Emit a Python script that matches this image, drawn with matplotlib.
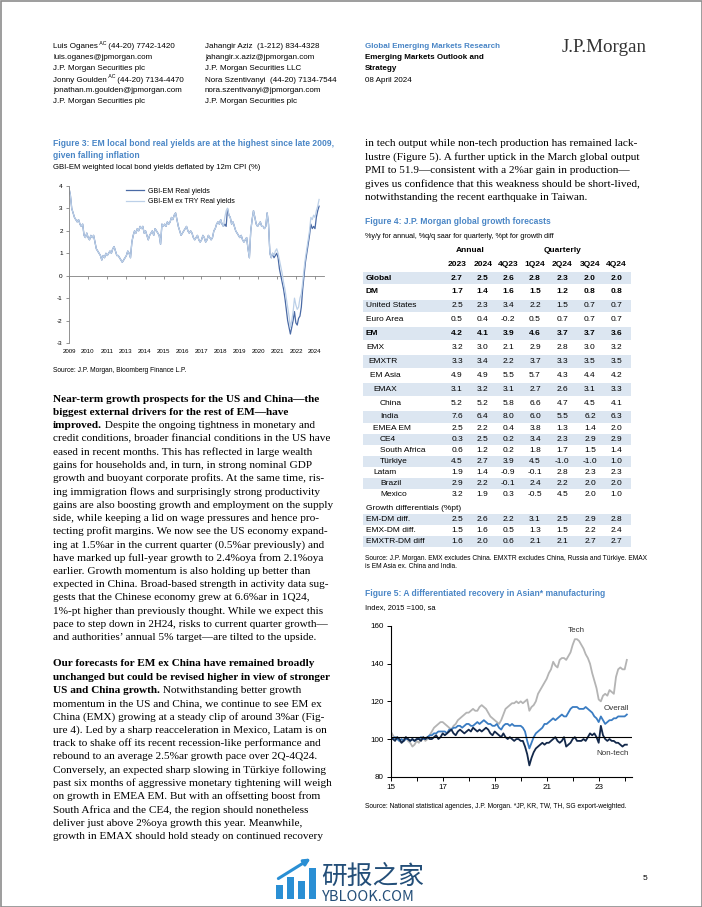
import numpy as np
import matplotlib
matplotlib.use('Agg')
import matplotlib.pyplot as plt
from matplotlib import font_manager
from matplotlib.patches import Rectangle

## Fonts
names = {f.name for f in font_manager.fontManager.ttflist}
SANS = 'Liberation Sans Narrow' if 'Liberation Sans Narrow' in names else 'Liberation Sans'
SERIF = 'Liberation Serif'
plt.rcParams['font.family'] = [SANS, 'DejaVu Sans']
plt.rcParams['axes.unicode_minus'] = False

BLUE = '#4a86c6'
W, H = 702, 907

## Figure 3 data: GBI-EM real yields, monthly Jan-2009 .. Apr-2024
fig3_start = 2009
gbi_em_real = [
    3.9, 3.6, 3.0, 2.8, 2.6, 2.5, 2.4, 2.5, 2.3, 2.2, 2.3, 1.8,   # 2009
    1.7, 1.9, 1.7, 1.6, 1.8, 1.7, 1.8, 1.5, 1.2, 1.1, 1.0, 0.9,   # 2010
    0.7, 0.9, 0.8, 1.0, 0.9, 1.0, 1.1, 1.0, 1.2, 1.3, 1.1, 0.9,   # 2011
    0.9, 0.8, 0.7, 0.6, 0.7, 0.8, 0.9, 1.1, 1.0, 0.8, 1.5, 1.8,   # 2012
    2.0, 1.9, 2.1, 2.0, 2.2, 2.1, 2.2, 1.9, 2.0, 1.8, 1.6, 1.8,   # 2013
    1.9, 2.0, 1.8, 2.1, 2.0, 1.9, 1.8, 1.4, 2.3, 2.2, 2.3, 2.2,   # 2014
    2.4, 2.3, 2.4, 2.6, 2.5, 2.7, 2.8, 2.5, 2.2, 2.0, 1.8, 1.9,   # 2015
    2.0, 2.1, 2.2, 2.0, 1.9, 2.0, 1.9, 1.7, 1.6, 1.7, 1.8, 1.6,   # 2016
    1.5, 1.6, 1.8, 1.7, 1.5, 1.6, 1.8, 1.7, 1.6, 1.7, 2.0, 2.1,   # 2017
    2.3, 2.4, 2.3, 2.5, 2.3, 2.2, 2.3, 2.2, 3.0, 2.7, 2.6, 2.3,   # 2018
    2.4, 2.2, 2.0, 1.9, 1.8, 1.7, 1.8, 1.6, 1.5, 1.6, 1.7, 1.2,   # 2019
    0.8, 2.0, 2.5, 2.9, 2.6, 2.3, 2.2, 2.3, 2.4, 2.2, 2.2, 2.1,   # 2020
    2.2, 2.8, 2.3, 1.0, 0.8, 1.0, 0.8, 0.9, 1.0, 0.8, 0.3, 0.0,   # 2021
    -0.3, -0.6, -1.0, -1.5, -2.0, -2.3, -2.6, -2.3, -2.0, -1.6, -2.1, -2.2,  # 2022
    -1.9, -1.8, -1.4, -0.6, 0.0, 0.6, 1.0, 1.4, 1.8, 2.3, 2.1, 2.2,  # 2023
    2.1, 2.6, 2.9, 3.1,                                             # 2024
]
gbi_em_ex_try = [
    3.9, 3.6, 3.0, 2.8, 2.6, 2.5, 2.4, 2.5, 2.3, 2.2, 2.3, 1.8,
    1.7, 1.9, 1.7, 1.6, 1.8, 1.7, 1.8, 1.5, 1.2, 1.1, 1.0, 0.9,
    0.7, 0.9, 0.8, 1.0, 0.9, 1.0, 1.1, 1.0, 1.2, 1.3, 1.1, 0.9,
    0.9, 0.8, 0.7, 0.6, 0.7, 0.8, 0.9, 1.1, 1.0, 0.8, 1.5, 1.8,
    2.0, 1.9, 2.1, 2.0, 2.2, 2.1, 2.2, 1.9, 2.0, 1.8, 1.6, 1.8,
    1.9, 2.0, 1.8, 2.1, 2.0, 1.9, 1.8, 1.4, 2.3, 2.2, 2.3, 2.2,
    2.4, 2.3, 2.4, 2.6, 2.5, 2.7, 2.8, 2.5, 2.2, 2.0, 1.8, 1.9,
    2.0, 2.1, 2.2, 2.0, 1.9, 2.0, 1.9, 1.7, 1.6, 1.7, 1.8, 1.6,
    1.5, 1.6, 1.8, 1.7, 1.5, 1.6, 1.8, 1.7, 1.6, 1.7, 2.0, 2.1,
    2.3, 2.4, 2.3, 2.5, 2.3, 2.2, 2.6, 2.9, 3.0, 2.7, 2.6, 2.3,
    2.4, 2.2, 2.0, 1.9, 1.8, 1.7, 1.8, 1.6, 1.5, 1.6, 1.7, 1.2,
    0.8, 2.0, 2.5, 2.9, 2.6, 2.3, 2.2, 2.3, 2.4, 2.2, 2.2, 2.1,
    2.2, 2.8, 2.3, 1.0, 0.8, 1.0, 0.9, 1.1, 1.2, 1.0, 0.7, 0.4,
    0.1, -0.3, -0.6, -1.0, -1.4, -1.8, -2.3, -2.0, -1.6, -1.0, -1.3, -1.5,
    -1.4, -1.0, -0.8, -0.3, 0.3, 0.8, 1.2, 1.6, 2.0, 2.6, 2.5, 2.7,
    2.6, 2.9, 3.1, 3.4,
]
fig3_xlabels = ['2009', '2010', '2011', '2013', '2014', '2015', '2016',
                '2017', '2018', '2019', '2020', '2021', '2022', '2024']

## Figure 4 data: growth forecasts
tbl_cols = ['2023', '2024', '4Q23', '1Q24', '2Q24', '3Q24', '4Q24']
tbl_rows = ['Global', 'DM', 'United States', 'Euro Area', 'EM', 'EMX', 'EMXTR',
            'EM Asia', 'EMAX', 'China', 'India', 'EMEA EM', 'CE4',
            'South Africa', 'Türkiye', 'Latam', 'Brazil', 'Mexico']
tbl_vals = [
    [2.7, 2.5, 2.6, 2.8, 2.3, 2.0, 2.0],
    [1.7, 1.4, 1.6, 1.5, 1.2, 0.8, 0.8],
    [2.5, 2.3, 3.4, 2.2, 1.5, 0.7, 0.7],
    [0.5, 0.4, -0.2, 0.5, 0.7, 0.7, 0.7],
    [4.2, 4.1, 3.9, 4.6, 3.7, 3.7, 3.6],
    [3.2, 3.0, 2.1, 2.9, 2.8, 3.0, 3.2],
    [3.3, 3.4, 2.2, 3.7, 3.3, 3.5, 3.5],
    [4.9, 4.9, 5.5, 5.7, 4.3, 4.4, 4.2],
    [3.1, 3.2, 3.1, 2.7, 2.6, 3.1, 3.3],
    [5.2, 5.2, 5.8, 6.6, 4.7, 4.5, 4.1],
    [7.6, 6.4, 8.0, 6.0, 5.5, 6.2, 6.3],
    [2.5, 2.2, 0.4, 3.8, 1.3, 1.4, 2.0],
    [0.3, 2.5, 0.2, 3.4, 2.3, 2.9, 2.9],
    [0.6, 1.2, 0.2, 1.8, 1.7, 1.5, 1.4],
    [4.5, 2.7, 3.9, 4.5, -1.0, -1.0, 1.0],
    [1.9, 1.4, -0.9, -0.1, 2.8, 2.3, 2.3],
    [2.9, 2.2, -0.1, 2.4, 2.2, 2.0, 2.0],
    [3.2, 1.9, 0.3, -0.5, 4.5, 2.0, 1.0],
]
tbl_bold = ['Global', 'DM', 'EM']
tbl_indent = [0, 0, 0, 0, 0, 0, 1, 2, 3, 4, 4, 3, 4, 4, 4, 3, 4, 4]
diff_rows = ['EM-DM diff.', 'EMX-DM diff.', 'EMXTR-DM diff']
diff_vals = [
    [2.5, 2.6, 2.2, 3.1, 2.5, 2.9, 2.8],
    [1.5, 1.6, 0.5, 1.3, 1.5, 2.2, 2.4],
    [1.6, 2.0, 0.6, 2.1, 2.1, 2.7, 2.7],
]

## Figure 5 data: Asian manufacturing, monthly Jan-2015 .. Feb-2024
fig5_start = 2015
tech = [
    104, 102, 100, 101, 99, 98, 100, 101, 99, 98, 96, 97,
    99, 98, 100, 101, 99, 100, 102, 104, 106, 107, 108, 109,
    109, 108, 107, 106, 105, 107, 108, 110, 111, 112, 113, 114,
    114, 115, 116, 115, 115, 117, 118, 117, 116, 114, 112, 111,
    110, 109, 108, 110, 113, 116, 117, 118, 119, 119, 120, 119,
    120, 119, 120, 121, 115, 117, 118, 120, 124, 126, 128, 130,
    132, 135, 137, 141, 139, 138, 142, 143, 143, 142, 144, 146,
    150, 153, 153, 152, 150, 148, 145, 143, 140, 135, 131, 127,
    121, 120, 123, 124, 123, 126, 125, 124, 133, 137, 138, 137,
    137, 142,
]
overall = [
    101, 100, 101, 100, 99, 100, 99, 100, 100, 99, 100, 99,
    100, 100, 101, 100, 100, 101, 102, 102, 103, 103, 104, 104,
    104, 104, 103, 105, 105, 106, 106, 107, 107, 106, 107, 108,
    108, 107, 107, 108, 109, 108, 109, 110, 109, 108, 108, 107,
    107, 108, 106, 105, 107, 108, 108, 107, 108, 107, 107, 107,
    107, 106, 104, 99, 95, 98, 101, 103, 104, 105, 106, 108,
    108, 109, 110, 111, 110, 111, 112, 113, 112, 112, 114, 116,
    117, 117, 117, 116, 116, 116, 117, 116, 115, 114, 112, 111,
    109, 112, 110, 108, 109, 110, 110, 111, 111, 112, 112, 112,
    112, 113,
]
non_tech = [
    101, 100, 99, 101, 100, 98, 99, 101, 100, 99, 100, 99,
    100, 100, 99, 101, 100, 101, 100, 100, 101, 102, 100, 101,
    103, 102, 103, 104, 105, 103, 102, 104, 105, 104, 103, 104,
    105, 104, 106, 105, 104, 105, 104, 105, 106, 105, 103, 102,
    104, 103, 102, 101, 103, 101, 100, 101, 100, 99, 100, 100,
    99, 99, 96, 92, 86, 90, 93, 95, 96, 97, 98, 97,
    98, 98, 99, 100, 101, 99, 98, 99, 101, 96, 97, 98,
    100, 101, 99, 99, 99, 100, 99, 101, 103, 102, 103, 101,
    98, 107, 102, 100, 99, 100, 99, 99, 98, 98, 97, 96,
    97, 97,
]
fig5_ticks = [2015, 2017, 2019, 2021, 2023]
fig5_ticklabels = ['15', '17', '19', '21', '23']

## Text
header_left = [['Luis Oganes', ' (44-20) 7742-1420'], 'luis.oganes@jpmorgan.com',
               'J.P. Morgan Securities plc', ['Jonny Goulden', ' (44-20) 7134-4470'],
               'jonathan.m.goulden@jpmorgan.com', 'J.P. Morgan Securities plc']
header_mid = ['Jahangir Aziz  (1-212) 834-4328', 'jahangir.x.aziz@jpmorgan.com',
              'J.P. Morgan Securities LLC', 'Nora Szentivanyi  (44-20) 7134-7544',
              'nora.szentivanyi@jpmorgan.com', 'J.P. Morgan Securities plc']

para1 = [
    ('Near-term growth prospects for the US and China—the', ''),
    ('biggest external drivers for the rest of EM—have', ''),
    ('improved.', ' Despite the ongoing tightness in monetary and'),
    ('', 'credit conditions, broader financial conditions in the US have'),
    ('', 'eased in recent months. This has reflected in large wealth'),
    ('', 'gains for households and, in turn, in strong nominal GDP'),
    ('', 'growth and buoyant corporate profits. At the same time, ris-'),
    ('', 'ing immigration flows and surprisingly strong productivity'),
    ('', 'gains are also boosting growth and employment on the supply'),
    ('', 'side, while keeping a lid on wage pressures and hence pro-'),
    ('', 'tecting profit margins. We now see the US economy expand-'),
    ('', 'ing at 1.5%ar in the current quarter (0.5%ar previously) and'),
    ('', 'have marked up full-year growth to 2.4%oya from 2.1%oya'),
    ('', 'earlier. Growth momentum is also holding up better than'),
    ('', 'expected in China. Broad-based strength in activity data sug-'),
    ('', 'gests that the Chinese economy grew at 6.6%ar in 1Q24,'),
    ('', '1%-pt higher than previously thought. While we expect this'),
    ('', 'pace to step down in 2H24, risks to current quarter growth—'),
    ('', 'and authorities’ annual 5% target—are tilted to the upside.'),
]
para2 = [
    ('Our forecasts for EM ex China have remained broadly', ''),
    ('unchanged but could be revised higher in view of stronger', ''),
    ('US and China growth.', ' Notwithstanding better growth'),
    ('', 'momentum in the US and China, we continue to see EM ex'),
    ('', 'China (EMX) growing at a steady clip of around 3%ar (Fig-'),
    ('', 'ure 4). Led by a sharp reacceleration in Mexico, Latam is on'),
    ('', 'track to shake off its recent recession-like performance and'),
    ('', 'rebound to an average 2.5%ar growth pace over 2Q-4Q24.'),
    ('', 'Conversely, an expected sharp slowing in Türkiye following'),
    ('', 'past six months of aggressive monetary tightening will weigh'),
    ('', 'on growth in EMEA EM. But with an offsetting boost from'),
    ('', 'South Africa and the CE4, the region should nonetheless'),
    ('', 'deliver just above 2%oya growth this year. Meanwhile,'),
    ('', 'growth in EMAX should hold steady on continued recovery'),
]
para_right = [
    'in tech output while non-tech production has remained lack-',
    'lustre (Figure 5). A further uptick in the March global output',
    'PMI to 51.9—consistent with a 2%ar gain in production—',
    'gives us confidence that this weakness should be short-lived,',
    'notwithstanding the recent earthquake in Taiwan.',
]

## Page
fig = plt.figure(figsize=(W / 100, H / 100), dpi=100)
bg = fig.add_axes([0, 0, 1, 1])
bg.set_xlim(0, W)
bg.set_ylim(H, 0)
bg.axis('off')


def px_axes(l, t, r, b):
    return fig.add_axes([l / W, 1 - b / H, (r - l) / W, (b - t) / H])


def put(x, y, s, size, **kw):
    kw.setdefault('va', 'center')
    return bg.text(x, y, s, fontsize=size, **kw)


def chain(x, y, parts):
    # parts: (text, size, dy, kwargs); each piece follows the previous one
    first = prev = None
    for s, size, dy, kw in parts:
        if first is None:
            first = prev = bg.text(x, y, s, fontsize=size, va='center', **kw)
        else:
            prev = bg.annotate(s, xy=(1, 0), xycoords=(prev, first),
                               xytext=(0, dy), textcoords='offset points',
                               fontsize=size, va='bottom', ha='left', **kw)
    return first


# header
HS = 5.8
hy = [46.5, 57.5, 68.5, 80, 91, 101.5]
for y, item in zip(hy, header_left):
    if isinstance(item, list):
        chain(53, y, [(item[0], HS, 0, {}), (' AC', 3.8, 3, {}), (item[1], HS, 0, {})])
    else:
        put(53, y, item, HS)
for y, item in zip(hy, header_mid):
    put(205, y, item, HS)
put(365, hy[0], 'Global Emerging Markets Research', HS, color=BLUE, weight='bold')
put(365, hy[1], 'Emerging Markets Outlook and', HS, weight='bold')
put(365, hy[2], 'Strategy', HS, weight='bold')
put(365, hy[3], '08 April 2024', HS)
put(562, 48, 'J.P.Morgan', 13.7, family=SERIF, color='#333333')

# body text
BS = 8.15
LS = 13.25
for i, (b, r) in enumerate(para1):
    y = 399 + i * LS
    if b and r:
        chain(53, y, [(b, BS, 0, dict(family=SERIF, weight='bold')), (r, BS, 0, dict(family=SERIF))])
    elif b:
        put(53, y, b, BS, family=SERIF, weight='bold')
    else:
        put(53, y, r, BS, family=SERIF)
for i, (b, r) in enumerate(para2):
    y = 664 + i * LS
    if b and r:
        chain(53, y, [(b, BS, 0, dict(family=SERIF, weight='bold')), (r, BS, 0, dict(family=SERIF))])
    elif b:
        put(53, y, b, BS, family=SERIF, weight='bold')
    else:
        put(53, y, r, BS, family=SERIF)
for i, s in enumerate(para_right):
    put(365, 144 + i * LS, s, BS, family=SERIF)

# ---- Figure 3 ----
TS = 6.15
put(53, 144, 'Figure 3: EM local bond real yields are at the highest since late 2009,', TS, color=BLUE, weight='bold')
put(53, 155.5, 'given falling inflation', TS, color=BLUE, weight='bold')
put(53, 167.5, 'GBI-EM weighted local bond yields deflated by 12m CPI (%)', 5.6)
put(53, 371, 'Source: J.P. Morgan, Bloomberg Finance L.P.', 4.8)

ax3 = px_axes(69, 186, 324, 343)
x3 = fig3_start + np.arange(len(gbi_em_real)) / 12
ax3.plot(x3, gbi_em_real, color='#4a6aa5', lw=0.9, label='GBI-EM Real yields')
ax3.plot(x3, gbi_em_ex_try, color='#bcd0e8', lw=0.9, label='GBI-EM ex TRY Real yields')
tick3 = np.linspace(2009, 2024, len(fig3_xlabels))
ax3.set_xlim(2009, 2024.55)
ax3.set_ylim(-3, 4)
ax3.set_yticks(range(-3, 5))
ax3.set_xticks(tick3)
ax3.set_xticklabels(fig3_xlabels)
ax3.tick_params(axis='x', length=0, labelsize=4.4, pad=4)
ax3.tick_params(axis='y', length=2.5, width=0.6, color='#808080', labelsize=4.6, pad=2)
for s in ['top', 'right', 'bottom']:
    ax3.spines[s].set_visible(False)
ax3.spines['left'].set_color('#808080')
ax3.spines['left'].set_linewidth(0.6)
ax3.patch.set_visible(False)
zero = ax3.secondary_xaxis(3 / 7)
zero.set_xticks(tick3)
zero.set_xticklabels([])
zero.tick_params(length=2.5, width=0.6, color='#808080')
zero.spines['bottom'].set_color('#808080')
zero.spines['bottom'].set_linewidth(0.6)
ax3.legend(loc='upper left', bbox_to_anchor=(0.2, 1.03), frameon=False,
           fontsize=5.0, handlelength=2.6, handletextpad=0.6, labelspacing=0.55)

# ---- Figure 4 table ----
put(365, 222, 'Figure 4: J.P. Morgan global growth forecasts', TS, color=BLUE, weight='bold')
put(365, 236, '%y/y for annual, %q/q saar for quarterly, %pt for growth diff', 5.2)
col_x = [457, 482.7, 508.3, 535, 562.3, 590, 616.7]
indent_x = [366, 368, 370, 373, 380]
row_y = [278 + 13.9 * i for i in range(11)] + [428.6, 439.6, 450.6, 461.4, 472.4, 483.6, 494.6]
row_h = [12.6] * 11 + [11] * 7
FS = 6.0
put(470, 251, 'Annual', FS, weight='bold', ha='center')
put(562.7, 250, 'Quarterly', FS, weight='bold', ha='center')
for cx, c in zip(col_x, tbl_cols):
    put(cx, 264, c, FS, weight='bold', ha='center')
for i, (name, vals) in enumerate(zip(tbl_rows, tbl_vals)):
    y = row_y[i]
    if i % 2 == 0:
        bg.add_patch(Rectangle((363, y - row_h[i] / 2), 268, row_h[i], fc='#dce6f1', ec='none'))
    wt = 'bold' if name in tbl_bold else 'normal'
    put(indent_x[tbl_indent[i]], y, name, FS, weight=wt)
    for cx, v in zip(col_x, vals):
        put(cx, y, f'{v:.1f}', FS, weight=wt, ha='center')
put(366, 508.7, 'Growth differentials (%pt)', FS)
for i, (name, vals) in enumerate(zip(diff_rows, diff_vals)):
    y = 519.7 + 11 * i
    if i % 2 == 0:
        bg.add_patch(Rectangle((363, y - 5.5), 268, 11, fc='#dce6f1', ec='none'))
    put(366, y, name, FS)
    for cx, v in zip(col_x, vals):
        put(cx, y, f'{v:.1f}', FS, ha='center')
put(365, 558, 'Source: J.P. Morgan. EMX excludes China. EMXTR excludes China, Russia and Türkiye. EMAX', 4.8)
put(365, 567, 'is EM Asia ex. China and India.', 4.8)

# ---- Figure 5 ----
put(365, 594, 'Figure 5: A differentiated recovery in Asian* manufacturing', TS, color=BLUE, weight='bold')
put(365, 608, 'Index, 2015 =100, sa', 5.4)
put(365, 806, 'Source: National statistical agencies, J.P. Morgan. *JP, KR, TW, TH, SG export-weighted.', 4.8)

ax5 = px_axes(390.7, 626, 631.7, 776.7)
x5 = fig5_start + np.arange(len(tech)) / 12
ax5.plot(x5, tech, color='#b4b4b4', lw=1.3)
ax5.plot(x5, overall, color='#3a7cc2', lw=1.3)
ax5.plot(x5, non_tech, color='#13284a', lw=1.3)
ax5.axhline(101, color='black', lw=0.8)
ax5.set_xlim(2015, 2024.27)
ax5.set_ylim(80, 160)
ax5.set_yticks([80, 100, 120, 140, 160])
ax5.set_xticks(fig5_ticks)
ax5.set_xticklabels(fig5_ticklabels)
ax5.set_xticks(range(2015, 2025), minor=True)
ax5.tick_params(which='both', length=3, width=0.7, labelsize=5.8, pad=2)
for s in ['top', 'right']:
    ax5.spines[s].set_visible(False)
for s in ['left', 'bottom']:
    ax5.spines[s].set_linewidth(0.8)
ax5.patch.set_visible(False)
ax5.text(2022.15, 157.5, 'Tech', fontsize=5.8, ha='center', va='center', color='#333333')
ax5.text(2023.69, 116.3, 'Overall', fontsize=5.8, ha='center', va='center', color='#333333')
ax5.text(2023.54, 92.4, 'Non-tech', fontsize=5.8, ha='center', va='center', color='#333333')

# ---- footer ----
for bx, top in zip([276, 287, 298, 309], [885, 877, 881, 868]):
    bg.add_patch(Rectangle((bx, top), 6.5, 899 - top, fc='#2a8fd4', ec='none'))
bg.annotate('', xy=(313, 857), xytext=(276, 880),
            arrowprops=dict(arrowstyle='-|>', color='#2a8fd4', lw=2.2, mutation_scale=9))
put(321, 877, '研报之家', 18.5, color='#234e78', family=['Noto Sans CJK SC', 'DejaVu Sans'])
put(322, 897, 'YBLOOK.COM', 10.5, color='#234e78', family=['Noto Sans CJK SC', 'DejaVu Sans'])
put(645, 878, '5', 6.0, ha='center')
bg.add_patch(Rectangle((0.5, 0.5), W - 1, H - 1, fill=False, ec='#8c8c8c', lw=1.2))

fig.savefig('out.png', dpi=100)
